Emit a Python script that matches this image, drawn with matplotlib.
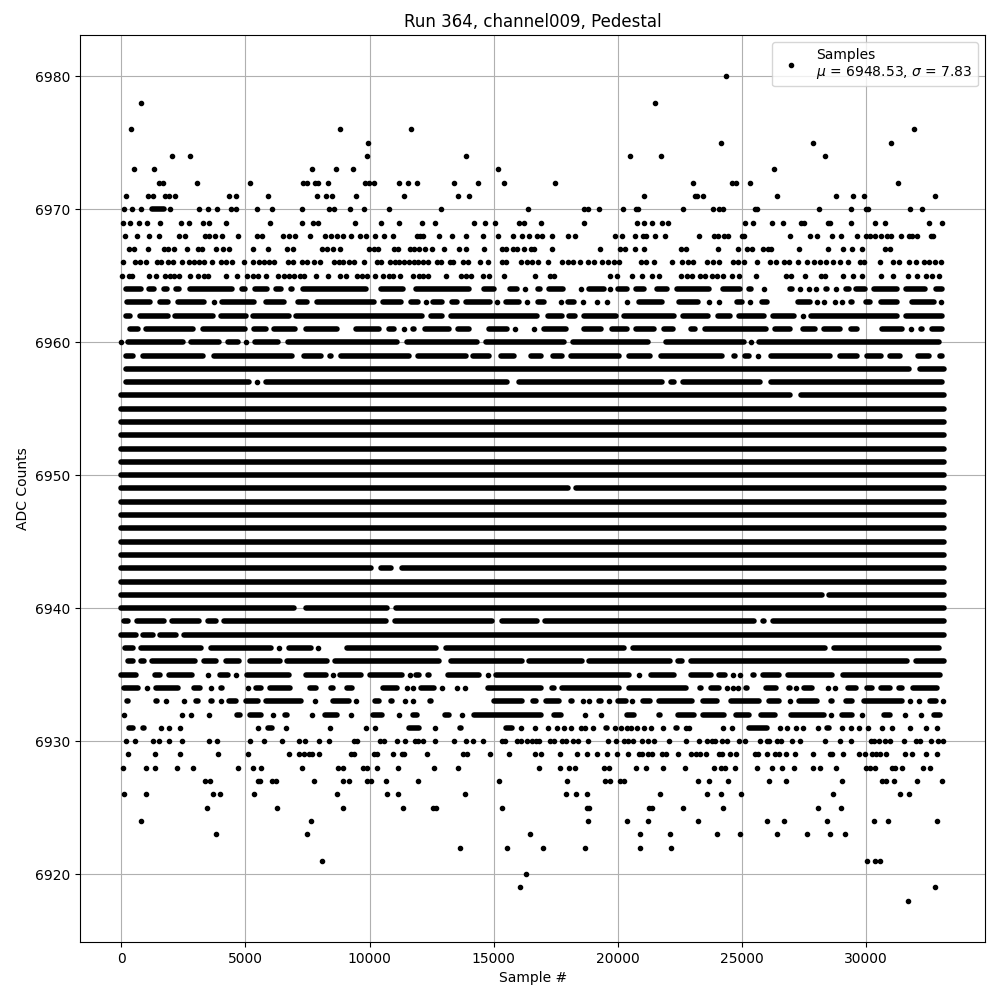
import matplotlib
matplotlib.use("Agg")
import matplotlib.pyplot as plt

# Each level: isolated samples (int) or stretches where dots merge into a bar (start, end: outer edges)
F0, F1 = -110, 33260
L6980 = [24377]
L6978 = [778, 21516]
L6976 = [376, 8830, 11652, 31946]
L6975 = [9958, 24176, 27880, 31020]
L6974 = [2026, 2751, 9917, 13907, 20509, 21757, 28363]
L6973 = [497, 1302, 7663, 8629, 9354, 15195, 26310]
L6972 = [1503, 1664, 3033, 5167, 7300, 7461, 7784, 7904, 8307, 9837, 9998, 10200, 11206, 11531, 11894, 13423, 14390, 15436, 17490, 23049, 24619, 24780, 25344, 31302]
L6971 = [174, 1060, 1261, 1745, 1906, 2147, 4321, 4603, 5891, 7864, 8226, 8468, 9475, 11370, 13585, 14027, 21073, 23129, 23210, 23451, 26431, 28806, 29490, 29933, 32792]
L6970 = [94, 416, 778, (1110, 1810), 1973, 3113, 3476, 3838, 4402, 4603, 5449, 6052, 7260, 8347, 8549, 9233, 9797, 10803, 12900, 16403, 18657, 18818, 19261, 20227, 20751, 20831, 22646, 23854, 24096, 24257, 25545, 25625, 28121, 29410, 30014, 30094, 31785, 32268]
L6969 = [67, 335, 698, 1020, 1543, 2389, 2738, 3274, 3516, 4200, 5972, 7260, 7703, 7904, 9434, 10481, 11206, 12095, 12659, 14229, 14672, 15074, 16040, 16242, 16926, 18657, 20791, 21073, 21395, 21797, 22039, 25142, 25464, 26229, 26672, 27397, 27518, 28484, 28564, 29410, 30376, 30779, 32550, 33074]
L6968 = [134, 644, 1100, 1503, 2308, 2550, 3355, 3516, 3758, 4039, 4684, 5449, 5650, 6495, 6737, 6978, 7609, 8186, 8428, 8709, 8911, 9273, 9636, 9877, 10239, 10602, 10964, 11907, 12041, 12175, 12820, 13343, 13907, 14591, 15195, 15799, 16161, 16443, 16765, 16966, 17369, 18013, 18295, 19905, 20187, 20711, 21033, 21153, 21516, 21918, 23290, 23894, 24055, 24297, 24458, 25022, 25102, 26954, 27759, 28041, 28645, 29007, 29651, 30014, 30175, 30376, 30618, 30859, 31020, 31423, 31745, 31866, 32067, 32631, 32712]
L6967 = [295, 497, 1060, 1704, 1865, 2107, 2630, 3073, 3234, 3798, 4080, 4321, 5287, 5891, 6656, 6898, 8065, 8280, 8508, 8790, 9998, 10199, 10360, 11004, 11165, 11612, 11773, 12014, 12256, 12538, 13021, 13625, 13907, 14631, 15356, 15517, 15799, 15960, 16242, 16523, 16644, 17369, 19301, 20107, 20308, 20711, 21073, 22562, 22764, 24055, 24861, 25223, 25424, 25867, 26068, 26189, 27316, 28484, 29088, 29450, 29853, 30779, 30980]
L6966 = [67, 537, 738, 980, 1423, 1584, 1865, 2067, 2429, 2711, 2912, 3113, 3315, 3637, 3999, 4200, 4442, 4925, 5287, 5529, 5730, 5931, 6133, 6697, 6898, 7260, 7475, 7743, 7985, 8549, 8750, 8951, 9166, 9394, 9797, 10320, 10481, 10843, 11045, 11206, 11370, 11571, 11773, 11974, 12175, 12377, 12739, 12900, 13249, 13383, 13786, 13987, 14470, 14792, 15356, 15517, 16121, 16362, 16564, 16805, 17208, 17772, 18013, 18215, 18496, 18818, 19060, 19382, 19623, 19865, 20066, 20952, 21153, 21475, 22200, 22603, 22848, 23049, 23612, 23854, 24096, 24659, 24861, 25102, 25625, 26149, 26390, 26712, 26914, 27276, 27638, 27920, 28148, 28416, 28685, 28954, 29289, 29772, 29933, 30577, 31101, 31342, 31745, 32027, 32349, 32550, 32792, 33033]
L6965 = [13, 295, 416, 1100, 1382, 1745, 1946, 2107, 2308, 2751, 3073, 3315, 3476, 4200, 4643, 5046, 5287, 5489, 5811, 6294, 6536, 6737, 6938, 7180, 7341, 7824, 8307, 8790, 9072, 9515, 9716, 9917, 10239, 10561, 10803, 10964, 11236, 11733, 12014, 12175, 12377, 13101, 13705, 13907, 14108, 14591, 14832, 15436, 16684, 17288, 17449, 19704, 19986, 20590, 20992, 21395, 21676, 22562, 22780, 22982, 23317, 23532, 23787, 23988, 24230, 24592, 24901, 25572, 26793, 26994, 27558, 28202, 28363, 29088, 29490, 29853, 30618, 31101, 31705, 32067, 32429, 32671, 32953]
L6964 = [(67, 895), (1007, 1436), (1610, 1946), (2080, 2442), (2644, 4549), (4764, 5086), (5260, 5972), (6133, 6536), (6737, 7005), (7206, 9958), (10360, 11478), (11746, 14121), (14497, 15128), (15557, 16067), 16282, (16671, 16980), (17141, 17906), 18536, (18724, 19556), 19704, (19892, 20496), (20630, 21167), (21461, 22106), (22267, 23787), (24122, 25062), (25196, 25491), 25907, (26833, 27142), 27370, 27719, 28001, (28283, 28551), 28819, (29088, 29423), (29517, 30094), (30228, 31369), (31503, 32510), (32711, 33181)]
L6963 = [(121, 1275), (1436, 1973), (2174, 3449), 3717, (3959, 5435), (5730, 6670), (7005, 7609), (7770, 10293), (10427, 11397), (11571, 12068), 12283, (12444, 13048), (13222, 13625), (13786, 14967), 15128, (15396, 16134), 16336, (16671, 17141), 17705, (17906, 18349), 18590, 19154, 19556, (19932, 20160), 20362, (20764, 21905), (22375, 23344), 23693, 24096, (24257, 24498), (24686, 25129), 25344, (25706, 26135), (26511, 26672), (27142, 27853), 28041, 28309, 28752, 29061, (29289, 29557), (29893, 30296), (30497, 31369), (31772, 32845), 33040]
L6962 = [(67, 470), (631, 1973), (2040, 3784), (3919, 5126), (5193, 6871), (6938, 12242), (12377, 13048), (13182, 16872), (17074, 17879), (17946, 18375), (18523, 20026), (20160, 22375), (22509, 23746), (23921, 24659), (24793, 26001), (26135, 27236), 27477, (27679, 31369), (31530, 33181)]
L6961 = [(228, 765), (899, 2979), (3181, 5086), (5220, 5932), (6039, 7099), (7341, 8817), (9354, 10494), (10669, 11099), 11370, (11639, 11907), (12108, 13316), (13450, 14121), (14296, 14524), (14698, 15638), 15866, (16067, 16269), 16630, (16939, 18013), (18147, 18349), (18550, 19449), (19664, 20496), (20630, 21569), (21771, 22348), (22847, 23210), (23424, 26108), (26243, 27075), (27370, 28081), (28215, 29088), (29289, 29759), (29920, 30135), (30537, 31570), 31839, (32107, 32376), (32577, 33181)]
L6960 = [0, (161, 2577), (2711, 4053), (4187, 4818), 5032, (5260, 6428), (6602, 11236), (11397, 14457), (14591, 17946), (18107, 21328), (21461, 21636), (21838, 25223), 25370, (25599, 33047)]
L6959 = [(94, 564), (765, 3382), (3623, 7005), (7233, 8146), (8280, 8575), (8750, 11706), (11840, 13987), (14054, 14926), (15195, 15933), (16403, 17033), (17275, 17879), (18013, 20160), (20362, 21435), (21636, 24324), (24592, 24861), (25021, 25397), 25666, (26068, 28658), (28860, 29759), (29960, 30725), (30859, 31476), (32013, 32644), (32872, 33181)]
L6958 = [(94, 31839), (32067, F1)]
L6957 = [(94, 5260), 5448, (5730, 15665), (15933, 21905), (22039, 22375), (22509, 25867), (26068, 33181)]
L6956 = [(F0, 27075), (27276, F1)]
L6955 = [(F0, F1)]
L6954 = [(F0, F1)]
L6953 = [(F0, F1)]
L6952 = [(F0, F1)]
L6951 = [(F0, F1)]
L6950 = [(F0, F1)]
L6949 = [(F0, 18100), (18200, F1)]
L6948 = [(F0, F1)]
L6947 = [(F0, F1)]
L6946 = [(F0, F1)]
L6945 = [(F0, F1)]
L6944 = [(F0, F1)]
L6943 = [(F0, 10160), (10360, 10964), (11180, F1)]
L6942 = [(F0, F1)]
L6941 = [(F0, 28340), (28420, F1)]
L6940 = [(F0, 7072), (7314, 10830), (10960, F1)]
L6939 = [(0, 362), (523, 1812), (1946, 3248), (3382, 3919), (4012, 10763), (10900, 15061), (15235, 16845), (16966, 25599), (25733, 26028), (26135, F1)]
L6938 = [(F0, 698), (765, 1369), (1436, 2308), (2402, F1)]
L6937 = [(27, 564), (698, 3315), (3516, 6133), 6334, (6643, 7770), 7904, (8280, 8481), (8978, 12780), (12990, 20360), (20500, 28484), (28618, 33047)]
L6936 = [(161, 564), (698, 1033), (1141, 3073), (3207, 3919), (4093, 4858), (5086, 6509), (6562, 8414), (8481, 12914), (13155, 16269), (16336, 18684), (18751, 22240), (22307, 22700), (22847, 31772), (31906, F1)]
L6935 = [(F0, 698), (835, 1033), (1235, 1678), (1812, 2939), 3476, (3852, 4415), 4603, (4952, 6871), (7314, 8347), 8522, (8710, 9756), (9917, 11437), 11612, (11773, 12108), (12242, 12511), (12645, 12873), (13048, 14524), 14792, (14993, 20563), 20871, (21234, 22375), (22847, 23854), (23988, 24458), 24659, 24928, (25330, 25625), (25733, 26605), (26739, 28752), (28954, 33113)]
L6934 = [(0, 792), 1033, (1302, 2375), (2483, 2617), (2805, 3288), 3610, (3919, 4147), (4590, 4818), 5086, (5300, 5730), (5865, 6912), (7475, 7958), (8347, 8656), (8978, 9421), (9944, 10159), (10427, 11236), 11504, 11733, (11974, 12712), 12940, 13517, 13866, (14188, 14417), (14658, 17007), (17248, 17543), (17651, 20160), (20362, 22847), (23210, 23451), (23653, 24190), 24391, 24659, 24861, (25062, 25330), (25867, 26511), (26806, 27075), 27209, (27410, 27947), (28121, 28283), 28484, 28752, (29181, 29719), (29960, 30362), (30497, 31074), (31235, 31570), (31799, 32980)]
L6933 = [(121, 362), (899, 1100), (1302, 1543), 1812, (2107, 2308), 2523, (2885, 3207), (3516, 3744), 4026, (4227, 4724), (4925, 5596), (5730, 7341), 7784, (8414, 9287), 9448, (10092, 10494), (10763, 11032), 11410, 11733, (12310, 12578), (13222, 13450), (13786, 13947), (14926, 16269), (16470, 16805), (17007, 17745), (18013, 18281), 18590, 18858, (19154, 19422), 19664, (19892, 20429), 20590, (20898, 21435), (21569, 23116), (23317, 24122), (24458, 25800), (26001, 26605), 26967, (27209, 28148), (28484, 28752), (29088, 29557), (29826, 31570), 31772, 32147, (32468, 32953), 33113]
L6932 = [94, (872, 1100), (1771, 1973), 2442, 2791, 3530, (4053, 4254), (4550, 4898), (5059, 5730), 6093, (6468, 6777), 7663, (8079, 8790), 9246, (10025, 10628), 11206, (11639, 12041), (12471, 12645), (12913, 13316), 13745, (14121, 17007), (17342, 17812), (18080, 18322), 18684, 19342, (19650, 19892), (20268, 20764), (21569, 21838), (22307, 23183), (23317, 24391), (24659, 25397), (25666, 26471), (26874, 28416), 28618, (28927, 29557), 29853, (30631, 31101), 31584, 32241, (32644, 33113)]
L6931 = [(201, 564), (765, 1007), 1610, 1906, 2348, (3019, 3207), (4898, 5126), 5489, (5797, 6160), 6616, 8387, 9864, 10239, (10803, 10964), (11477, 12108), 12659, (13544, 13786), (15396, 15866), 16094, 16684, 17208, 17570, 17852, 18134, 18510, 18684, 19020, (19422, 19690), 19892, 20133, 20362, 20523, 20791, 21073, 21328, 21838, (22240, 22509), 22750, 22888, (23451, 23653), 24257, 24592, (25196, 26135), 26538, 26833, 27209, 27477, 28081, (28349, 28618), 29061, 29410, 29732, 30094, 30671, 31074, 31799, 32443, 32872]
L6930 = [201, 537, 1275, 1503, 1906, 2442, 3516, 3838, 5167, 5730, 6455, 7139, 7380, 7945, 8347, 9394, 9488, 10427, 10588, 11099, 11437, 11813, 11974, 12175, 12645, 13423, 13893, 14188, 14591, 15329, 15463, 15933, 16094, 16336, 16537, 16711, 16845, 17275, 17436, 17745, 17906, 18188, 18416, 18818, 19623, 19946, 20254, 20429, 20630, 20965, 21234, 21475, 22079, 22750, 23290, 23586, 23787, 23921, 24190, 24418, 24901, 25129, 25733, 26001, 26108, 26404, 26605, 27048, 27370, 28349, 28981, 29410, 30228, 30322, 30537, 30765, 30966, 31530, 32040, 32201, 32644, 32926, 33113]
L6929 = [255, 1342, 2348, 3878, 5086, 6737, 7139, 7367, 7542, 7690, 7945, 9246, 9381, 10186, 10293, 10964, 11303, 11397, 12310, 13786, 13920, 14873, 15638, 16671, 16926, 17691, 18375, 18778, 19180, 19556, 19959, 20429, 20844, 20979, 21234, 21368, 21798, 21932, 22442, 22955, 23156, 23317, 23559, 24096, 24203, 24525, 24767, 25532, 25666, 26001, 26337, 26511, 26806, 27169, 27880, 28551, 28658, 29088, 29732, 29987, 30242, 30403, 30590, 30832, 31584, 31866, 32429, 32872]
L6928 = [54, 993, 1342, 2228, 2872, 4684, 5300, 5610, 7260, 8710, 8911, 9756, 9917, 10320, 11166, 12618, 13585, 16832, 17691, 18053, 18281, 19462, 19664, 20751, 21153, 21838, 22724, 23894, 24163, 24324, 24740, 25625, 26229, 26632, 27115, 27880, 28148, 28819, 30027, 30161, 30376, 31074, 31168, 31476, 32309, 32604]
L6927 = [3382, 3583, 5489, 5596, 6066, 6240, 7743, 8951, 9153, 9917, 10051, 10682, 11934, 15235, 17973, 19503, 19704, 20107, 20268, 23250, 23693, 24458, 26108, 26793, 29047, 30658, 30832, 31141, 32067, 33074]
L6926 = [94, 980, 3677, 3959, 5328, 8709, 10723, 11152, 13866, 17933, 18308, 18751, 21717, 23612, 24176, 24981, 28685, 31382, 31745]
L6925 = [3436, 6254, 8911, 11343, 12551, 12685, 15356, 18751, 18858, 21274, 21368, 22616, 24257, 28081, 29007]
L6924 = [778, 7622, 18818, 20362, 21234, 23250, 26028, 26712, 28444, 30336, 30900, 32872]
L6923 = [3798, 7461, 16483, 20912, 22120, 23988, 24941, 26431, 27638, 28564, 29168]
L6922 = [13665, 15557, 17007, 18697, 20912, 22160]
L6921 = [8065, 30054, 30376, 30577]
L6920 = [16322]
L6919 = [16080, 32792]
L6918 = [31705]

levels = {int(k[1:]): v for k, v in list(globals().items())
          if k.startswith("L") and k[1:].isdigit()}
TITLE = "Run 364, channel009, Pedestal"
XLABEL = "Sample #"
YLABEL = "ADC Counts"
LEGEND = "Samples\n$\\mu$ = 6948.53, $\\sigma$ = 7.83"

fig, ax = plt.subplots(figsize=(10, 10), dpi=100)
CAP = 110  # half a dot, in samples
px, py = [], []
for lev, items in levels.items():
    runs = sorted(i for i in items if isinstance(i, tuple))
    px += [i for i in items if not isinstance(i, tuple)]
    py += [lev] * sum(not isinstance(i, tuple) for i in items)
    merged = []
    for a, b in runs:
        if merged and a <= merged[-1][1] + 40:
            merged[-1][1] = max(b, merged[-1][1])
        else:
            merged.append([a, b])
    for a, b in merged:
        lo, hi = a + CAP, b - CAP
        if hi < lo:
            lo = hi = (a + b) / 2
        ax.plot([lo, hi], [lev, lev], color="k", lw=4, solid_capstyle="round")
ax.plot(px, py, "k.", label=LEGEND)
ax.set_title(TITLE)
ax.set_xlabel(XLABEL)
ax.set_ylabel(YLABEL)
ax.grid(True)
ax.legend(loc="upper right")
fig.subplots_adjust(left=0.0803, right=0.985, top=0.965, bottom=0.058)
fig.savefig("out.png")
